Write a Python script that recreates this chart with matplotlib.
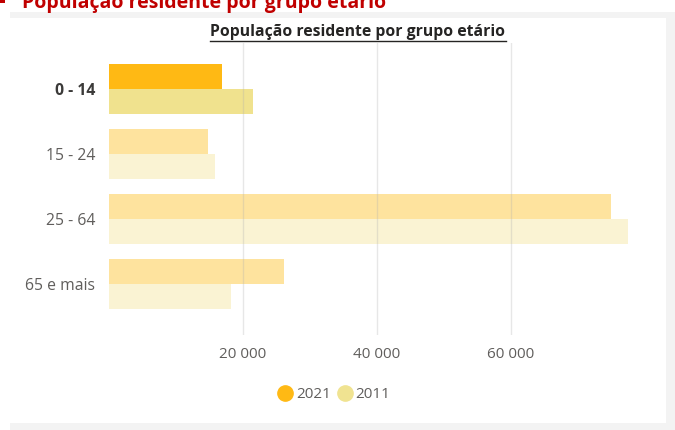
import matplotlib
matplotlib.use("Agg")
from matplotlib import pyplot as plt
from matplotlib.patches import Rectangle
from matplotlib.lines import Line2D
from matplotlib.ticker import FuncFormatter
import numpy as np

grupos = ['0 - 14', '15 - 24', '25 - 64', '65 e mais']
pop_2021 = [16900, 14800, 74900, 26100]
pop_2011 = [21500, 15800, 77500, 18200]
anos = ['2021', '2011']

# 0-14 is highlighted, other groups are faded
cor_2021 = ['#FFB914', '#FEE39E', '#FEE39E', '#FEE39E']
cor_2011 = ['#F0E28E', '#FAF3D3', '#FAF3D3', '#FAF3D3']

fig = plt.figure(figsize=(6.75, 4.3), dpi=100)
fig.patch.set_facecolor('white')
# light grey frame behind the white card
fig.patches.append(Rectangle((10/675, 0), 665/675, 1-12/430,
                             transform=fig.transFigure, facecolor='#F3F3F3',
                             edgecolor='none', zorder=-10))
fig.patches.append(Rectangle((0, 1-423/430), 666/675, 405/430,
                             transform=fig.transFigure, facecolor='white',
                             edgecolor='none', zorder=-9))
fig.patches.append(Rectangle((0, 1-3/430), 5/675, 3/430,
                             transform=fig.transFigure, facecolor='#C00000',
                             edgecolor='none', zorder=-5))
fig.text(22/675, 1-3/430, 'População residente por grupo etário', color='#C00000',
         fontsize=14, fontweight='bold', family='Open Sans', va='center', ha='left')

ax = fig.add_axes([109/675, 1-335/430, 529/675, 292/430])
ax.set_facecolor('none')
y = np.arange(len(grupos))
h = 0.385
ax.barh(y - h/2, pop_2021, height=h, color=cor_2021, zorder=2)
ax.barh(y + h/2, pop_2011, height=h, color=cor_2011, zorder=2)

ax.set_xlim(0, 79000)
ax.set_ylim(3.785, -0.708)
ax.set_xticks([20000, 40000, 60000])
ax.xaxis.set_major_formatter(FuncFormatter(lambda v, p: f'{int(v):,}'.replace(',', ' ')))
ax.grid(axis='x', color='#B0B0B0', alpha=0.3, linewidth=1, zorder=3)
ax.set_axisbelow(False)
for s in ax.spines.values():
    s.set_visible(False)
ax.tick_params(length=0, labelsize=11, labelcolor='#605E5C', pad=10)
ax.tick_params(axis='x', pad=8.5)
ax.set_yticks(y)
ax.set_yticklabels(grupos, family='Open Sans', fontsize=11.3)
for lbl in ax.get_xticklabels():
    lbl.set_family('Open Sans')
ax.get_yticklabels()[0].set_fontweight('bold')
ax.get_yticklabels()[0].set_color('#3b3a39')

fig.text(358/675, 1-32/430, 'População residente por grupo etário', ha='center', va='center',
         fontsize=11.3, fontweight='bold', color='#252423', family='Open Sans')
fig.add_artist(Line2D([210/675, 506/675], [1-41/430, 1-41/430], color='#252423', linewidth=1))

handles = [Line2D([], [], marker='o', linestyle='none', markersize=11, color=c)
           for c in ['#FFB914', '#F0E391']]
leg = fig.legend(handles, anos, loc='center', bbox_to_anchor=(334/675, 1-395/430), ncol=2,
                 frameon=False, handlelength=1.0, handletextpad=0.2, columnspacing=0.4,
                 prop={'family': 'Open Sans', 'size': 11})
for t in leg.get_texts():
    t.set_color('#605E5C')

plt.savefig('out.png', dpi=100, facecolor=fig.get_facecolor())
